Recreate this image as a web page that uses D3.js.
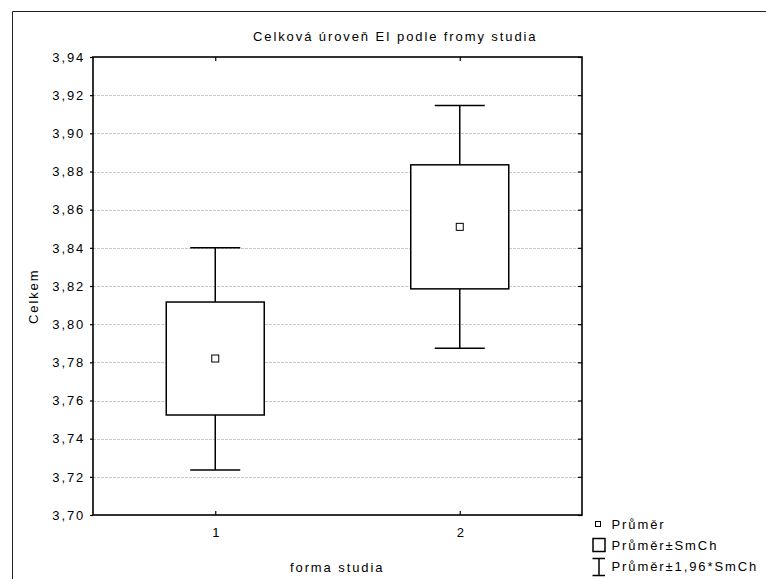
<!DOCTYPE html>
<html>
<head>
<meta charset="utf-8">
<script src="https://cdn.jsdelivr.net/npm/d3@7"></script>
<style>
  html, body { margin: 0; padding: 0; background: #fff; }
  svg text { font-family: "Liberation Sans", Arial, sans-serif; fill: #000; }
</style>
</head>
<body>
<svg id="chart" width="766" height="579"></svg>
<script>
// Groups and their summary statistics
const categories = ["1", "2"];
const means      = [3.782, 3.851];
const seLow      = [3.7524, 3.8185];
const seHigh     = [3.8116, 3.8835];
const ciLow      = [3.7236, 3.7874];
const ciHigh     = [3.8400, 3.9146];
const yTicks     = [3.70, 3.72, 3.74, 3.76, 3.78, 3.80, 3.82, 3.84, 3.86, 3.88, 3.90, 3.92, 3.94];
const legendLabels = ["Průměr", "Průměr±SmCh", "Průměr±1,96*SmCh"];

const svg = d3.select("#chart");
const plotL = 93, plotR = 582, plotT = 57, plotB = 515;
const FONT = "Liberation Sans, Arial, sans-serif";
const FS = 13, LS = 1.9;

const x = d3.scalePoint().domain(categories).range([plotL, plotR]).padding(0.5);
const y = d3.scaleLinear().domain([3.70, 3.94]).range([plotB, plotT]);
const fmt = v => d3.format(".2f")(v).replace(".", ",");

const styleText = sel => sel
  .attr("font-family", FONT).attr("font-size", FS)
  .attr("letter-spacing", LS).attr("fill", "#000");

// outer frame
svg.append("path")
  .attr("d", "M12.5,580 V11.5 H780")
  .attr("fill", "none").attr("stroke", "#222").attr("stroke-width", 1);

// gridlines
svg.append("g").selectAll("line")
  .data(yTicks.filter(t => t > 3.70 && t < 3.94))
  .join("line")
  .attr("x1", plotL).attr("x2", plotR)
  .attr("y1", d => Math.round(y(d)) + 0.5).attr("y2", d => Math.round(y(d)) + 0.5)
  .attr("stroke", "#c8c8c8").attr("stroke-width", 1).attr("stroke-dasharray", "3,1");

// y axis (left) with labels
const yAxis = d3.axisLeft(y).tickValues(yTicks).tickFormat(fmt).tickSize(3).tickPadding(4.8);
const gy = svg.append("g").attr("transform", `translate(${plotL},0)`).call(yAxis);
gy.select(".domain").remove();
gy.selectAll(".tick line").attr("stroke", "#000").attr("stroke-width", 1.2);
gy.selectAll(".tick text").call(styleText);

// y axis (right) ticks only
const gyr = svg.append("g").attr("transform", `translate(${plotR},0)`)
  .call(d3.axisLeft(y).tickValues(yTicks).tickFormat("").tickSize(4));
gyr.select(".domain").remove();
gyr.selectAll(".tick line").attr("stroke", "#000").attr("stroke-width", 1.2);

// x axis (bottom) with labels, ticks pointing inward
const gx = svg.append("g").attr("transform", `translate(0,${plotB})`)
  .call(d3.axisBottom(x).tickSize(-4).tickPadding(12.8));
gx.select(".domain").remove();
gx.selectAll(".tick line").attr("stroke", "#000").attr("stroke-width", 1.2);
gx.selectAll(".tick text").call(styleText).attr("dx", LS / 2);

// x axis (top) ticks only
const gxt = svg.append("g").attr("transform", `translate(0,${plotT})`)
  .call(d3.axisTop(x).tickFormat("").tickSize(-4));
gxt.select(".domain").remove();
gxt.selectAll(".tick line").attr("stroke", "#000").attr("stroke-width", 1.2);

// plot frame
svg.append("rect")
  .attr("x", plotL).attr("y", plotT).attr("width", plotR - plotL).attr("height", plotB - plotT)
  .attr("fill", "none").attr("stroke", "#000").attr("stroke-width", 1.6);

// box-and-whisker marks
const boxW = 98, capW = 50;
const groups = svg.append("g").selectAll("g")
  .data(categories.map((c, i) => ({ c, m: means[i], sl: seLow[i], sh: seHigh[i], cl: ciLow[i], ch: ciHigh[i] })))
  .join("g");

groups.append("line") // upper whisker
  .attr("x1", d => x(d.c)).attr("x2", d => x(d.c))
  .attr("y1", d => y(d.ch)).attr("y2", d => y(d.sh))
  .attr("stroke", "#000").attr("stroke-width", 1.5);
groups.append("line") // lower whisker
  .attr("x1", d => x(d.c)).attr("x2", d => x(d.c))
  .attr("y1", d => y(d.sl)).attr("y2", d => y(d.cl))
  .attr("stroke", "#000").attr("stroke-width", 1.5);
groups.append("line") // upper cap
  .attr("x1", d => x(d.c) - capW / 2).attr("x2", d => x(d.c) + capW / 2)
  .attr("y1", d => y(d.ch)).attr("y2", d => y(d.ch))
  .attr("stroke", "#000").attr("stroke-width", 1.5);
groups.append("line") // lower cap
  .attr("x1", d => x(d.c) - capW / 2).attr("x2", d => x(d.c) + capW / 2)
  .attr("y1", d => y(d.cl)).attr("y2", d => y(d.cl))
  .attr("stroke", "#000").attr("stroke-width", 1.5);
groups.append("rect") // mean ± SE box
  .attr("x", d => x(d.c) - boxW / 2).attr("width", boxW)
  .attr("y", d => y(d.sh)).attr("height", d => y(d.sl) - y(d.sh))
  .attr("fill", "#fff").attr("stroke", "#000").attr("stroke-width", 1.5);
groups.append("rect") // mean marker
  .attr("x", d => x(d.c) - 3.5).attr("y", d => y(d.m) - 3.5)
  .attr("width", 7).attr("height", 7)
  .attr("fill", "#fff").attr("stroke", "#000").attr("stroke-width", 1);

// title and axis titles
svg.append("text").attr("x", 253).attr("y", 40.5).call(styleText)
  .text("Celková úroveň EI podle fromy studia");
svg.append("text").attr("x", 290).attr("y", 571.5).call(styleText)
  .text("forma studia");
svg.append("text").attr("transform", "translate(37.5,324) rotate(-90)").call(styleText)
  .text("Celkem");

// legend
const lg = svg.append("g");
lg.append("rect").attr("x", 595.5).attr("y", 521.5).attr("width", 5).attr("height", 5)
  .attr("fill", "#fff").attr("stroke", "#000").attr("stroke-width", 1);
lg.append("rect").attr("x", 593).attr("y", 538.5).attr("width", 12).attr("height", 13)
  .attr("fill", "#fff").attr("stroke", "#000").attr("stroke-width", 1.5);
lg.append("path").attr("d", "M592.5,558.5 H605 M599,558.5 V575.5 M592.5,575.5 H605")
  .attr("fill", "none").attr("stroke", "#000").attr("stroke-width", 1.5);
lg.selectAll("text").data(legendLabels).join("text")
  .attr("x", 611.5).attr("y", (d, i) => 528.5 + i * 21.4)
  .call(styleText).text(d => d);
</script>
</body>
</html>
